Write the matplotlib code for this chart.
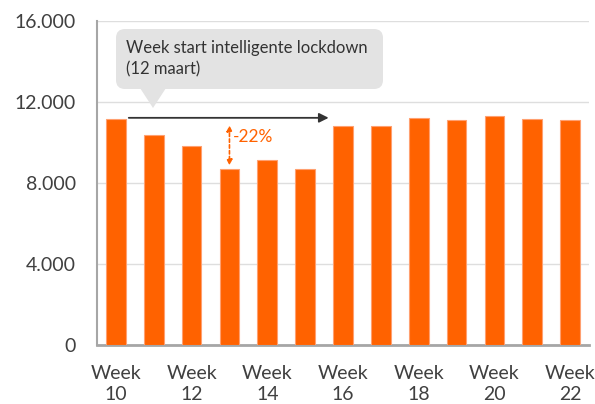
import matplotlib
matplotlib.use("Agg")
import matplotlib.pyplot as plt
from matplotlib.patches import FancyBboxPatch, Polygon
from matplotlib.ticker import FuncFormatter

plt.rcParams['font.family'] = ['Lato', 'DejaVu Sans']

weeks = [10, 11, 12, 13, 14, 15, 16, 17, 18, 19, 20, 21, 22]
values = [11160, 10370, 9860, 8690, 9150, 8690, 10815, 10815, 11225, 11110, 11310, 11190, 11110]
yticks = [0, 4000, 8000, 12000, 16000]
callout_text = "Week start intelligente lockdown\n(12 maart)"
drop_label = "-22%"

orange = '#ff6200'
grey_text = '#404040'

fig = plt.figure(figsize=(5.95, 4.04), dpi=100)
ax = fig.add_axes([0.163, 0.145, 0.827, 0.803])

x = list(range(len(weeks)))
ax.bar(x, values, width=0.52, color=orange, edgecolor='#ffa070', linewidth=0.8, zorder=3)

ax.set_xlim(-0.5, len(weeks) - 0.5)
ax.set_ylim(0, 16000)
ax.set_yticks(yticks)
ax.yaxis.set_major_formatter(FuncFormatter(lambda v, p: f"{int(v):,}".replace(",", ".")))
ax.set_xticks(x[::2])
ax.set_xticklabels([f"Week\n{w}" for w in weeks[::2]], linespacing=1.3)
ax.tick_params(axis='both', length=0, labelsize=14, colors=grey_text)
ax.tick_params(axis='y', pad=15)
ax.tick_params(axis='x', pad=14)

ax.grid(True, axis='y', color='#dedede', linewidth=1, zorder=0)
for s in ['top', 'right']:
    ax.spines[s].set_visible(False)
ax.spines['left'].set_color('#a6a6a6')
ax.spines['left'].set_linewidth(1.5)
ax.spines['bottom'].set_color('#a6a6a6')
ax.spines['bottom'].set_linewidth(2)

# callout box (in inches)
tr = fig.dpi_scale_trans
box = FancyBboxPatch((1.16, 3.15), 2.67, 0.60, boxstyle="round,pad=0,rounding_size=0.09",
                     transform=tr, facecolor='#e3e3e3', edgecolor='none', zorder=5)
fig.patches.append(box)
tri = Polygon([(1.40, 3.16), (1.66, 3.16), (1.53, 2.96)], closed=True, transform=tr,
              facecolor='#e3e3e3', edgecolor='none', zorder=5)
fig.patches.append(tri)
fig.text(1.26 / 5.95, 3.455 / 4.04, callout_text, fontsize=12, color='#333333',
         va='center', ha='left', linespacing=1.4, zorder=7)

# lockdown arrow
ax.annotate("", xy=(5.62, 11225), xytext=(0.34, 11225),
            arrowprops=dict(arrowstyle='-|>', color='#333333', lw=1.3, mutation_scale=14,
                            shrinkA=0, shrinkB=0), zorder=6)

# drop arrow
ax.annotate("", xy=(3, 8880), xytext=(3, 10850),
            arrowprops=dict(arrowstyle='<|-|>', color=orange, lw=1.2, linestyle=(0, (2, 1.5)),
                            mutation_scale=8, shrinkA=0, shrinkB=0), zorder=6)
ax.text(3.1, 10300, drop_label, color=orange, fontsize=12.5, va='center', ha='left', zorder=6)

fig.savefig("out.png", dpi=100)
